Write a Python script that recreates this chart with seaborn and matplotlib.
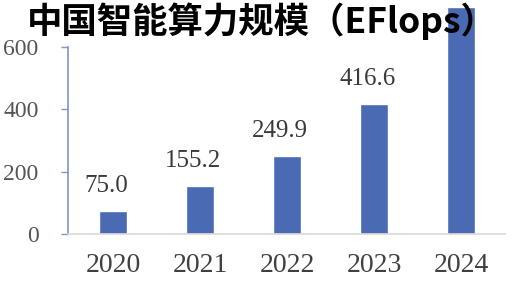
import matplotlib
matplotlib.use("Agg")
import matplotlib.pyplot as plt
import seaborn as sns

# China intelligent computing scale (EFlops)
years = ["2020", "2021", "2022", "2023", "2024"]
values = [75.0, 155.2, 249.9, 416.6, 725.3]
# the 2024 label sits under the title in the reference, so only four are shown
value_labels = ["75.0", "155.2", "249.9", "416.6"]
y_ticks = [0, 200, 400, 600]
title = "中国智能算力规模（EFlops）"

sns.set_style("white")
plt.rcParams["font.family"] = ["Liberation Serif", "DejaVu Serif"]

fig = plt.figure(figsize=(5.14, 2.85), dpi=100)
ax = fig.add_axes([0.132, 0.179, 0.85, 0.821])

sns.barplot(x=years, y=values, color="#4a6ab4", width=0.32, saturation=1, ax=ax)

ax.set_xlim(-0.52, 4.5)
ax.set_ylim(0, 749)
ax.set_yticks(y_ticks)
ax.set_yticklabels([str(t) for t in y_ticks])

for s in ["top", "right"]:
    ax.spines[s].set_visible(False)
ax.spines["left"].set_color("#8096c8")
ax.spines["left"].set_linewidth(1.2)
ax.spines["left"].set_bounds(0, 600)
ax.spines["bottom"].set_color("#d9d9d9")
ax.spines["bottom"].set_linewidth(1.2)

ax.tick_params(axis="y", left=True, length=5, width=1, color="#8096c8",
               pad=16, labelsize=17, labelcolor="#555555")
ax.tick_params(axis="x", bottom=False, pad=10, labelsize=20, labelcolor="#404040")
ax.set_xlabel("")
ax.set_ylabel("")

# value labels above bars
for i, lab in enumerate(value_labels):
    ax.annotate(lab, (i, values[i]), xytext=(-5, 10), textcoords="offset points",
                ha="center", va="bottom", fontsize=18, color="#3a3a3a")

fig.text(0.51, 0.924, title, ha="center", va="center", fontsize=25.5,
         fontweight="bold", color="black",
         family=["Noto Sans CJK SC", "DejaVu Sans"])

fig.savefig("out.png", dpi=100)
